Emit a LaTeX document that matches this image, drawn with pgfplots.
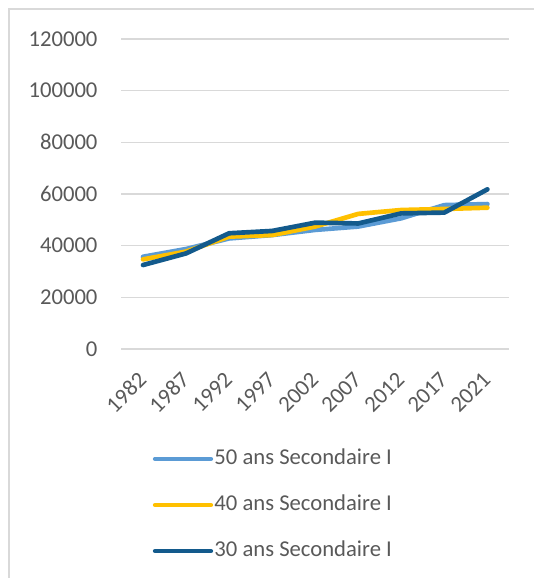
\documentclass[border=0pt]{standalone}
\usepackage{pgfplots}
\pgfplotsset{compat=1.18}
\usepackage{fontspec}
\setmainfont{Carlito}
\definecolor{txt}{HTML}{595959}
\definecolor{grd}{HTML}{D9D9D9}
\definecolor{cA}{HTML}{5B9BD5}
\definecolor{cB}{HTML}{FFC000}
\definecolor{cC}{HTML}{135A8C}
\begin{document}
\begin{tikzpicture}[x=1pt,y=1pt]
\useasboundingbox (0,0) rectangle (399.75,433.5);
\draw[grd, line width=1.1pt] (6.75,0) -- (6.75,426.75) -- (402,426.75);
\begin{axis}[
  at={(91.1pt,171.75pt)}, anchor=south west,
  scale only axis, width=290.6pt, height=232.5pt,
  xmin=-0.5, xmax=8.5, ymin=0, ymax=120000,
  xtick={0,...,8},
  xticklabels={1982,1987,1992,1997,2002,2007,2012,2017,2021},
  ytick={0,20000,40000,60000,80000,100000,120000},
  yticklabels={0,20000,40000,60000,80000,100000,120000},
  scaled y ticks=false,
  axis line style={draw=none},
  major tick length=0pt,
  ymajorgrids, grid style={grd, line width=0.8pt},
  tick label style={font=\fontsize{17}{20}\selectfont, text=txt},
  yticklabel style={inner sep=0pt, anchor=east, xshift=-17.8pt},
  xticklabel style={inner sep=0pt, xshift=-0.4pt, yshift=-20.3pt, rotate=45, anchor=east},
  legend style={at={(0.081,-0.320)}, anchor=north west, draw=none, fill=none,
    inner sep=0pt, outer sep=0pt, row sep=22.6pt,
    nodes={inner sep=0pt, text height=12pt, text depth=0pt},
    font=\fontsize{17}{20}\selectfont, text=txt,
    /tikz/every odd column/.append style={column sep=1pt}},
  legend cell align=left,
  legend image code/.code={\draw[#1, line width=3.2pt, line cap=round] (0pt,-2pt) -- (42pt,-2pt);},
  every axis plot/.append style={line width=3.5pt, line cap=round, line join=round},
]
\addplot[cA] coordinates {(0,35700) (1,38700) (2,42800) (3,44100) (4,46100) (5,47400) (6,50600) (7,55700) (8,56100)};
\addlegendentry{50 ans Secondaire I}
\addplot[cB] coordinates {(0,34700) (1,37700) (2,43500) (3,44100) (4,47400) (5,52300) (6,53800) (7,54200) (8,54700)};
\addlegendentry{40 ans Secondaire I}
\addplot[cC] coordinates {(0,32500) (1,37000) (2,44800) (3,45700) (4,48900) (5,48600) (6,52500) (7,52800) (8,61800)};
\addlegendentry{30 ans Secondaire I}
\end{axis}
\end{tikzpicture}
\end{document}
